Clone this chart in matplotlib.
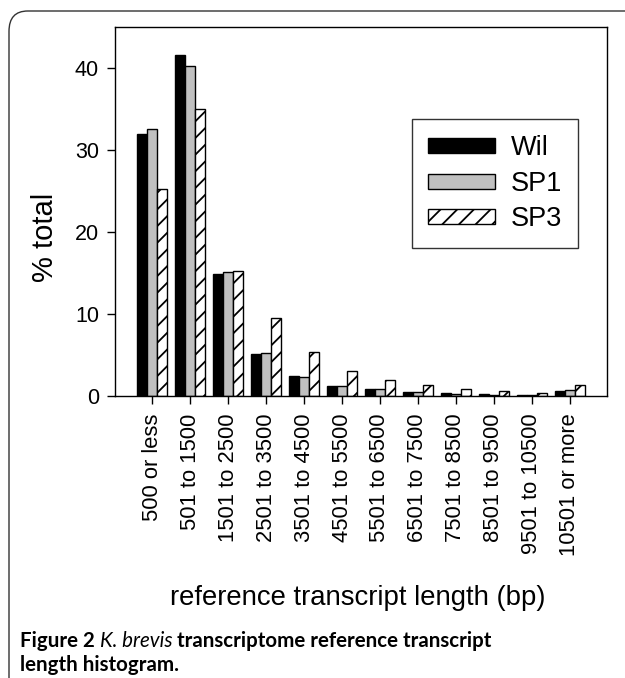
import numpy as np
import matplotlib.pyplot as plt
from matplotlib.patches import FancyBboxPatch

plt.rcParams['font.family'] = ['Liberation Sans', 'DejaVu Sans']
plt.rcParams['hatch.linewidth'] = 1.3

# 各长度区间
categories = ['500 or less', '501 to 1500', '1501 to 2500', '2501 to 3500',
              '3501 to 4500', '4501 to 5500', '5501 to 6500', '6501 to 7500',
              '7501 to 8500', '8501 to 9500', '9501 to 10500', '10501 or more']
wil = [31.9, 41.6, 14.9, 5.1, 2.4, 1.26, 0.8, 0.5, 0.35, 0.2, 0.1, 0.55]
sp1 = [32.6, 40.3, 15.1, 5.3, 2.3, 1.26, 0.8, 0.45, 0.25, 0.15, 0.1, 0.7]
sp3 = [25.3, 35.0, 15.3, 9.5, 5.4, 3.1, 1.95, 1.35, 0.8, 0.6, 0.35, 1.35]

fig = plt.figure(figsize=(6.25, 6.78), dpi=100)
W, H = 625, 678
ax = fig.add_axes([115 / W, 1 - 396 / H, (607 - 115) / W, (396 - 27) / H])

x = np.arange(len(categories))
w = 0.265
ax.bar(x - w, wil, w, color='black', edgecolor='black', linewidth=1, label='Wil')
ax.bar(x, sp1, w, color='#c0c0c0', edgecolor='black', linewidth=1, label='SP1')
ax.bar(x + w, sp3, w, color='white', edgecolor='black', linewidth=1, hatch='//', label='SP3')

ax.set_xlim(-0.975, 11.975)
ax.set_ylim(0, 45)
ax.set_yticks([0, 10, 20, 30, 40])
ax.set_xticks(x)
ax.set_xticklabels(categories, rotation=90, fontsize=15.8)
ax.tick_params(axis='y', labelsize=15.5, direction='out', length=5.5, width=1, pad=6)
ax.tick_params(axis='x', direction='out', length=5.5, width=1, pad=7)
for s in ax.spines.values():
    s.set_linewidth(1)

fig.text(45 / W, 1 - 237.5 / H, '% total', fontsize=21, rotation=90,
         ha='center', va='center')
fig.text(358 / W, 1 - 598 / H, 'reference transcript length (bp)', fontsize=19.8,
         ha='center', va='center')

leg = ax.legend(loc='upper left', bbox_to_anchor=((412 - 115) / 492, 1 - (119 - 27) / 369),
                fontsize=19.5, frameon=True, fancybox=False, edgecolor='black',
                handlelength=2.45, handleheight=0.47, handletextpad=0.6,
                borderpad=0.6, labelspacing=0.35, borderaxespad=0)
leg.get_frame().set_linewidth(1)

# 外框
box = FancyBboxPatch((9 / W, 1 - 700 / H), 700 / W, (700 - 11) / H,
                     boxstyle='round,pad=0,rounding_size=0.03',
                     transform=fig.transFigure, facecolor='none',
                     edgecolor='#333333', linewidth=1, clip_on=False)
fig.patches.append(box)

# 图注
cap = dict(family=['Lato', 'DejaVu Sans'], fontsize=14.8, va='center')
t1 = fig.text(20 / W, 1 - 641 / H, 'Figure 2 ', fontweight='bold', **cap)
fig.canvas.draw()
r = fig.canvas.get_renderer()
bb = t1.get_window_extent(r)
t2 = fig.text(bb.x1 / W, 1 - 641 / H, 'K. brevis ', fontstyle='italic', **cap)
bb = t2.get_window_extent(r)
fig.text(bb.x1 / W, 1 - 641 / H, 'transcriptome reference transcript',
         fontweight='bold', **cap)
fig.text(20 / W, 1 - 665 / H, 'length histogram.', fontweight='bold', **cap)

fig.savefig('out.png', dpi=100)
